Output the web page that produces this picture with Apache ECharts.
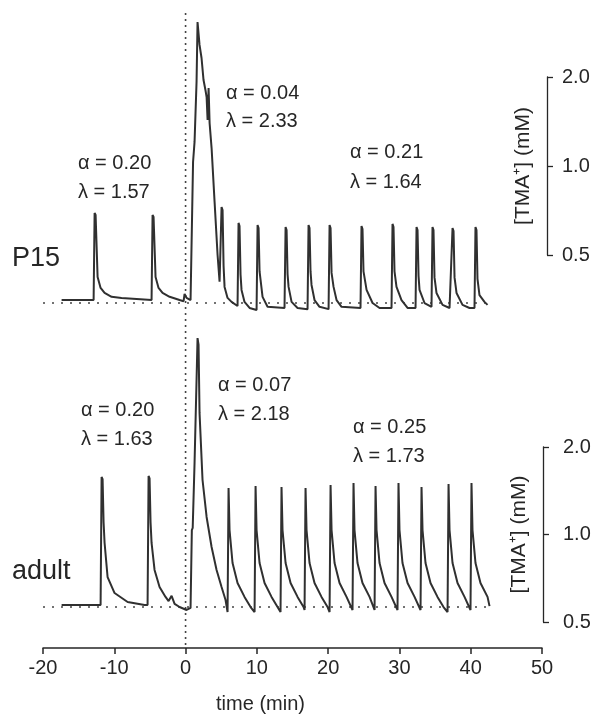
<!DOCTYPE html>
<html>
<head>
<meta charset="utf-8">
<script src="https://cdn.jsdelivr.net/npm/echarts@6/dist/echarts.min.js"></script>
<style>
html, body { margin: 0; padding: 0; background: #fff; }
#chart { width: 597px; height: 715px; }
</style>
</head>
<body>
<div id="chart"></div>
<script>
// time axis (min)
var timeMin = -20;
var timeMax = 50;
var timeStep = 10;

// [TMA+] scale bar (mM), log axis
var concMin = 0.5;
var concMax = 2.0;

// P15 recording: [time (min), TMA+ (mM)]
var p15Trace = [
	[-17.39, 0.352], [-12.90, 0.352], [-12.76, 0.694], [-12.62, 0.683], [-12.34, 0.421],
	[-11.92, 0.387], [-11.36, 0.372], [-10.38, 0.361], [-8.98, 0.358], [-4.77, 0.352],
	[-4.63, 0.683], [-4.49, 0.672], [-4.21, 0.421], [-3.79, 0.387], [-3.23, 0.372],
	[-2.24, 0.361], [-0.84, 0.352], [-0.28, 0.349], [-0.14, 0.369], [0.14, 0.358],
	[0.70, 0.352], [0.84, 0.352], [1.05, 1.032], [1.26, 1.206], [1.54, 1.924],
	[1.68, 3.07], [1.96, 2.567], [2.24, 2.319], [2.52, 1.953], [2.80, 1.80],
	[2.95, 1.711], [3.09, 1.431], [3.23, 1.836], [3.37, 1.398], [3.65, 1.150],
	[4.07, 0.756], [4.49, 0.50], [4.77, 0.406], [4.91, 0.406], [5.05, 0.727],
	[5.19, 0.710], [5.33, 0.460], [5.47, 0.390], [5.89, 0.358], [6.45, 0.347], [7.29, 0.336],
	[7.43, 0.642], [7.57, 0.627], [7.71, 0.430], [7.85, 0.381], [8.27, 0.347], [8.98, 0.331],
	[9.96, 0.326], [10.10, 0.631], [10.24, 0.617], [10.38, 0.440], [10.52, 0.412], [10.80, 0.361],
	[11.50, 0.334], [13.88, 0.331], [14.03, 0.622], [14.17, 0.607], [14.31, 0.430], [14.45, 0.390],
	[14.87, 0.347], [15.71, 0.331], [17.11, 0.328], [17.25, 0.631], [17.39, 0.617], [17.53, 0.440],
	[17.67, 0.396], [18.09, 0.352], [18.79, 0.334], [20.06, 0.328], [20.20, 0.631],
	[20.34, 0.617], [20.48, 0.435], [20.76, 0.390], [21.18, 0.352], [21.88, 0.334], [24.54, 0.331],
	[24.68, 0.627], [24.82, 0.612], [24.96, 0.440], [25.39, 0.381], [26.23, 0.344], [27.21, 0.331],
	[28.89, 0.331], [29.03, 0.637], [29.17, 0.622], [29.31, 0.440], [29.59, 0.390], [30.29, 0.352],
	[31.14, 0.331], [32.26, 0.331], [32.40, 0.622], [32.54, 0.607], [32.68, 0.425], [32.82, 0.381],
	[33.52, 0.344], [34.50, 0.334], [34.64, 0.622], [34.78, 0.607], [34.92, 0.420], [35.20, 0.372],
	[36.05, 0.339], [37.03, 0.331], [37.31, 0.331], [37.45, 0.617], [37.59, 0.603], [37.73, 0.420],
	[38.01, 0.372], [38.85, 0.339], [39.83, 0.331], [40.53, 0.331], [40.67, 0.622],
	[40.81, 0.607], [40.95, 0.415], [41.23, 0.366], [41.93, 0.347], [42.36, 0.339]
];

// adult recording: [time (min), TMA+ (mM)]
var adultTrace = [
	[-17.39, 0.572], [-11.92, 0.572], [-11.78, 1.577], [-11.64, 1.55], [-11.50, 1.10], [-11.36, 0.935],
	[-10.94, 0.714], [-9.96, 0.629], [-8.13, 0.586], [-5.75, 0.572], [-5.33, 0.572],
	[-5.19, 1.59], [-5.05, 1.56], [-4.91, 1.10], [-4.77, 0.935], [-4.35, 0.755], [-3.65, 0.660],
	[-2.81, 0.610], [-2.38, 0.590], [-1.96, 0.615], [-1.54, 0.577], [-0.84, 0.563],
	[0.14, 0.550], [0.70, 0.559], [0.84, 0.563], [0.88, 1.036], [1.00, 1.053],
	[1.26, 1.762], [1.54, 3.40], [1.68, 4.74], [1.82, 4.50], [1.96, 2.62],
	[2.38, 1.54], [2.95, 1.149], [3.65, 0.906], [4.35, 0.755], [5.05, 0.660],
	[5.61, 0.595], [5.89, 0.541], [5.96, 0.541],
	[6.03, 1.445], [6.17, 1.036], [6.59, 0.798], [7.29, 0.681], [8.27, 0.610], [9.12, 0.563], [9.68, 0.541],
	[9.82, 1.468], [9.96, 1.036], [10.38, 0.798], [11.08, 0.681], [12.06, 0.610], [12.90, 0.563], [13.32, 0.541],
	[13.46, 1.457], [13.60, 1.036], [14.03, 0.798], [14.73, 0.681], [15.71, 0.610], [16.55, 0.563], [16.69, 0.550],
	[16.83, 1.445], [16.97, 1.036], [17.39, 0.798], [18.09, 0.681], [19.07, 0.610], [19.92, 0.563], [20.20, 0.541],
	[20.34, 1.480], [20.48, 1.036], [20.90, 0.798], [21.60, 0.681], [22.58, 0.610], [23.42, 0.550],
	[23.56, 1.504], [23.70, 1.036], [24.12, 0.798], [24.82, 0.681], [25.81, 0.610], [26.51, 0.550],
	[26.65, 1.468], [26.79, 1.036], [27.21, 0.798], [27.91, 0.681], [28.89, 0.610], [29.73, 0.550],
	[29.87, 1.504], [30.01, 1.036], [30.43, 0.798], [31.14, 0.681], [32.12, 0.610], [32.96, 0.550],
	[33.10, 1.457], [33.24, 1.036], [33.66, 0.798], [34.36, 0.681], [35.34, 0.610], [36.19, 0.563], [36.75, 0.541],
	[36.89, 1.492], [37.03, 1.036], [37.45, 0.798], [38.15, 0.681], [39.13, 0.610], [39.97, 0.550],
	[40.11, 1.504], [40.25, 1.036], [40.67, 0.798], [41.37, 0.681], [42.36, 0.610], [42.64, 0.567]
];

// dotted baselines and the t = 0 marker
var p15Baseline = [[-20, 0.344], [42, 0.344]];
var adultBaseline = [[-20, 0.563], [43, 0.563]];
var stimOnset = [[0, 0], [0, 1]];

// fitted parameters shown above each trace
var p15Text = ['α = 0.20', 'λ = 1.57', 'α = 0.04', 'λ = 2.33', 'α = 0.21', 'λ = 1.64'];
var adultText = ['α = 0.20', 'λ = 1.63', 'α = 0.07', 'λ = 2.18', 'α = 0.25', 'λ = 1.73'];

var FONT = '"Liberation Sans", Arial, sans-serif';
var INK = '#262626';
var TRACE = '#303030';

function label(text, x, y, size) {
	return {
		type: 'text', x: x, y: y, silent: true,
		style: { text: text, font: (size || 20) + 'px ' + FONT, fill: INK, verticalAlign: 'middle' }
	};
}

function scaleBar(gridIndex, offset, labelMargin) {
	return {
		type: 'log', logBase: 2, gridIndex: gridIndex, position: 'right', offset: offset,
		min: concMin, max: concMax,
		axisLine: { show: true, onZero: false, lineStyle: { color: INK, width: 1.3 } },
		axisTick: { show: true, inside: false, length: 6, lineStyle: { color: INK, width: 1.3 } },
		axisLabel: { show: true, margin: labelMargin, color: INK, fontSize: 20, fontFamily: FONT,
			formatter: function (v) { return v.toFixed(1); } },
		splitLine: { show: false },
		name: '[TMA⁺] (mM)', nameLocation: 'middle', nameRotate: 90, nameGap: -34,
		nameMoveOverlap: false,
		nameTextStyle: { color: INK, fontSize: 21, fontFamily: FONT }
	};
}

function traceSeries(data, axis) {
	return {
		type: 'line', data: data, xAxisIndex: axis, yAxisIndex: axis,
		showSymbol: false, clip: false, silent: true,
		lineStyle: { color: TRACE, width: 2 }
	};
}

function dottedSeries(data, axis, dash) {
	return {
		type: 'line', data: data, xAxisIndex: axis, yAxisIndex: axis,
		showSymbol: false, clip: false, silent: true,
		lineStyle: { color: '#444', width: 1.6, type: dash }
	};
}

var chart = echarts.init(document.getElementById('chart'));

var option = {
	backgroundColor: '#ffffff',
	animation: false,
	grid: [
		{ left: 43, right: 55, top: 77, height: 178, outerBoundsMode: 'none' },
		{ left: 43, right: 55, top: 447, height: 175, outerBoundsMode: 'none' },
		{ left: 43, right: 55, top: 12, bottom: 70, outerBoundsMode: 'none' }
	],
	xAxis: [
		{ type: 'value', gridIndex: 0, min: timeMin, max: timeMax, interval: timeStep, show: false },
		{
			type: 'value', gridIndex: 1, min: timeMin, max: timeMax, interval: timeStep,
			position: 'bottom', offset: 26,
			axisLine: { show: true, onZero: false, lineStyle: { color: INK, width: 1.5 } },
			axisTick: { show: true, inside: false, length: 6, lineStyle: { color: INK, width: 1.5 } },
			axisLabel: { margin: 10, color: INK, fontSize: 20, fontFamily: FONT },
			splitLine: { show: false },
			name: 'time (min)', nameLocation: 'middle', nameGap: 46,
			nameTextStyle: { color: INK, fontSize: 20, fontFamily: FONT, padding: [0, 64, 0, 0] }
		},
		{ type: 'value', gridIndex: 2, min: timeMin, max: timeMax, show: false }
	],
	yAxis: [
		scaleBar(0, 5, 15),
		scaleBar(1, 1, 20),
		{ type: 'value', gridIndex: 2, min: 0, max: 1, show: false }
	],
	series: [
		dottedSeries(stimOnset, 2, [2, 4]),
		dottedSeries(p15Baseline, 0, [2, 7]),
		dottedSeries(adultBaseline, 1, [2, 7]),
		traceSeries(p15Trace, 0),
		traceSeries(adultTrace, 1)
	],
	graphic: [
		label('P15', 12, 259, 27),
		label(p15Text[0], 78, 163), label(p15Text[1], 78, 192),
		label(p15Text[2], 226, 93), label(p15Text[3], 226, 121),
		label(p15Text[4], 350, 152), label(p15Text[5], 350, 182),
		label('adult', 12, 572, 27),
		label(adultText[0], 81, 410), label(adultText[1], 81, 439),
		label(adultText[2], 218, 385), label(adultText[3], 218, 414),
		label(adultText[4], 353, 427), label(adultText[5], 353, 456)
	]
};

chart.setOption(option);
</script>
</body>
</html>
